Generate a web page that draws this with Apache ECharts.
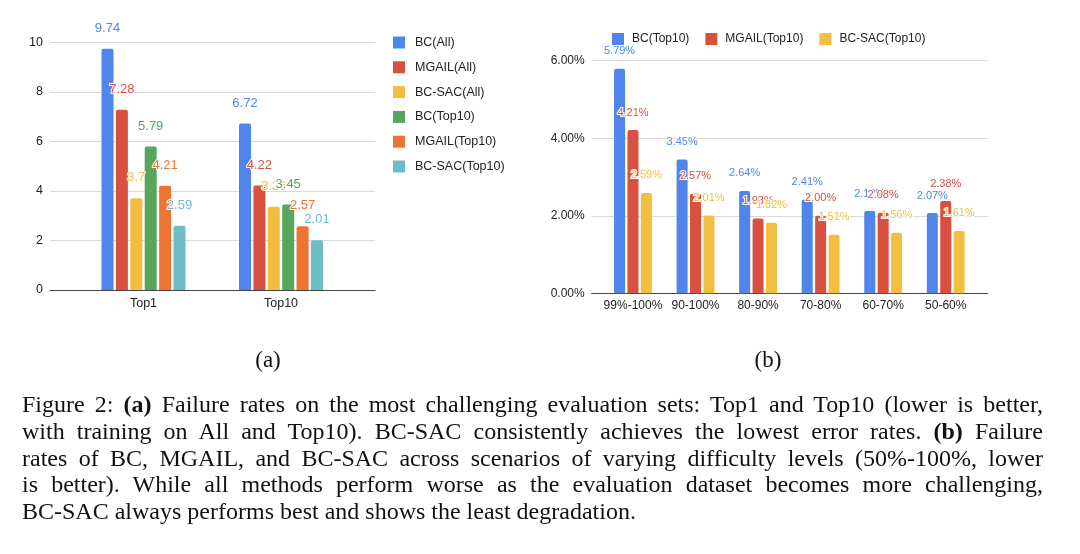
<!DOCTYPE html>
<html><head><meta charset="utf-8">
<script src="https://cdn.jsdelivr.net/npm/echarts@6/dist/echarts.min.js"></script>
<style>
html,body{margin:0;padding:0;background:#fff;width:1080px;height:554px;overflow:hidden;}
#chart{position:absolute;left:0;top:0;width:1080px;height:554px;}
.cap{position:absolute;left:22px;width:1021px;font-family:"Liberation Serif","Times New Roman",serif;font-size:24px;color:#111;text-align:justify;text-align-last:justify;line-height:27px;height:27px;}
.cap.last{text-align-last:left;}
</style>
</head><body>
<div id="chart"></div>
<div class="cap" style="top:391px">Figure 2: <b>(a)</b> Failure rates on the most challenging evaluation sets: Top1 and Top10 (lower is better,</div>
<div class="cap" style="top:418px">with training on All and Top10). BC-SAC consistently achieves the lowest error rates. <b>(b)</b> Failure</div>
<div class="cap" style="top:445px">rates of BC, MGAIL, and BC-SAC across scenarios of varying difficulty levels (50%-100%, lower</div>
<div class="cap" style="top:471px">is better). While all methods perform worse as the evaluation dataset becomes more challenging,</div>
<div class="cap last" style="top:498px">BC-SAC always performs best and shows the least degradation.</div>
<script>
// ---- Chart (a) data ----
const catsA = ['Top1', 'Top10'];
const namesA = ['BC(All)', 'MGAIL(All)', 'BC-SAC(All)', 'BC(Top10)', 'MGAIL(Top10)', 'BC-SAC(Top10)'];
const bcAll = [9.74, 6.72];
const mgailAll = [7.28, 4.22];
const bcsacAll = [3.7, 3.36];
const bcTop10 = [5.79, 3.45];
const mgailTop10 = [4.21, 2.57];
const bcsacTop10 = [2.59, 2.01];
const ticksA = [0, 2, 4, 6, 8, 10];

// ---- Chart (b) data ----
const catsB = ['99%-100%', '90-100%', '80-90%', '70-80%', '60-70%', '50-60%'];
const namesB = ['BC(Top10)', 'MGAIL(Top10)', 'BC-SAC(Top10)'];
const bcB = [5.79, 3.45, 2.64, 2.41, 2.12, 2.07];
const mgailB = [4.21, 2.57, 1.93, 2.00, 2.08, 2.38];
const bcsacB = [2.59, 2.01, 1.82, 1.51, 1.56, 1.61];
const ticksB = ['0.00%', '2.00%', '4.00%', '6.00%'];

const colorsA = ['#5086EC', '#D85040', '#F1BE42', '#58A65C', '#EC7534', '#6CBEC6'];
const colorsB = ['#5086EC', '#D85040', '#F1BE42'];
const FONT = '"Liberation Sans", Arial, sans-serif';

const chart = echarts.init(document.getElementById('chart'));

const valsA = [bcAll, mgailAll, bcsacAll, bcTop10, mgailTop10, bcsacTop10];
const valsB = [bcB, mgailB, bcsacB];

const seriesA = namesA.map((n, i) => ({
  name: n, type: 'bar', xAxisIndex: 1, yAxisIndex: 1,
  data: valsA[i], barWidth: 12, barGap: '20%',
  itemStyle: { color: colorsA[i], borderRadius: [2, 2, 0, 0] },
  label: { show: true, position: 'top', distance: 14, fontSize: 13, fontFamily: FONT,
    color: colorsA[i], textBorderColor: '#fff', textBorderWidth: 2 }
}));
const seriesB = namesB.map((n, i) => ({
  name: n, type: 'bar', xAxisIndex: 3, yAxisIndex: 3,
  data: valsB[i], barWidth: 11, barGap: '22%',
  itemStyle: { color: colorsB[i], borderRadius: [2, 2, 0, 0] },
  label: { show: true, position: 'top', distance: 12, fontSize: 11, fontFamily: FONT,
    color: colorsB[i], textBorderColor: '#fff', textBorderWidth: 2,
    formatter: p => p.value.toFixed(2) + '%' }
}));

const outerX = (idx) => ({
  type: 'category', gridIndex: idx, data: [''],
  axisLabel: { show: false }, axisTick: { show: false },
  axisLine: { show: true, lineStyle: { color: '#444', width: 1.2 } }, splitLine: { show: false }
});

const option = {
  animation: false,
  backgroundColor: '#fff',
  textStyle: { fontFamily: FONT },
  grid: [
    { left: 50, top: 42.3, width: 325, height: 247.7 },
    { left: 74.75, top: 42.3, width: 275, height: 247.7 },
    { left: 591.7, top: 60.7, width: 396, height: 232.6 },
    { left: 601.7, top: 60.7, width: 375.3, height: 232.6 }
  ],
  xAxis: [
    outerX(0),
    { type: 'category', gridIndex: 1, data: catsA,
      axisLine: { show: false }, axisTick: { show: false },
      axisLabel: { color: '#222', fontSize: 12.5, margin: 7, fontFamily: FONT } },
    outerX(2),
    { type: 'category', gridIndex: 3, data: catsB,
      axisLine: { show: false }, axisTick: { show: false },
      axisLabel: { color: '#222', fontSize: 12, margin: 6, fontFamily: FONT, interval: 0 } }
  ],
  yAxis: [
    { type: 'value', gridIndex: 0, min: ticksA[0], max: ticksA[ticksA.length - 1], interval: 2,
      axisLine: { show: false }, axisTick: { show: false },
      axisLabel: { color: '#222', fontSize: 12.5, margin: 7, fontFamily: FONT },
      splitLine: { lineStyle: { color: '#d9d9d9', width: 1 } } },
    { type: 'value', gridIndex: 1, min: ticksA[0], max: ticksA[ticksA.length - 1], show: false, splitLine: { show: false } },
    { type: 'value', gridIndex: 2, min: 0, max: 6, interval: 2,
      axisLine: { show: false }, axisTick: { show: false },
      axisLabel: { color: '#222', fontSize: 12, margin: 7, fontFamily: FONT,
        formatter: v => ticksB[Math.round(v / 2)] },
      splitLine: { lineStyle: { color: '#d9d9d9', width: 1 } } },
    { type: 'value', gridIndex: 3, min: 0, max: 6, show: false, splitLine: { show: false } }
  ],
  legend: [
    { orient: 'vertical', left: 388, top: 31, itemWidth: 12, itemHeight: 12, itemGap: 11.8,
      icon: 'rect', selectedMode: false,
      textStyle: { color: '#222', fontSize: 12.5, fontFamily: FONT, padding: [0, 0, 0, 5] },
      data: namesA.map((n, i) => ({ name: n, itemStyle: { color: colorsA[i] } })) },
    { orient: 'horizontal', left: 607, top: 28, itemWidth: 12, itemHeight: 12, itemGap: 16,
      icon: 'rect', selectedMode: false,
      textStyle: { color: '#222', fontSize: 12, fontFamily: FONT, padding: [0, 0, 0, 3] },
      data: namesB.map((n, i) => ({ name: n, itemStyle: { color: colorsB[i] } })) }
  ],
  graphic: [
    { type: 'text', x: 268, y: 361, style: { text: '(a)', align: 'center', verticalAlign: 'middle',
      font: '23px "Liberation Serif", "Times New Roman", serif', fill: '#111' } },
    { type: 'text', x: 768, y: 361, style: { text: '(b)', align: 'center', verticalAlign: 'middle',
      font: '23px "Liberation Serif", "Times New Roman", serif', fill: '#111' } }
  ],
  series: seriesA.concat(seriesB)
};
chart.setOption(option);
</script>
</body></html>
